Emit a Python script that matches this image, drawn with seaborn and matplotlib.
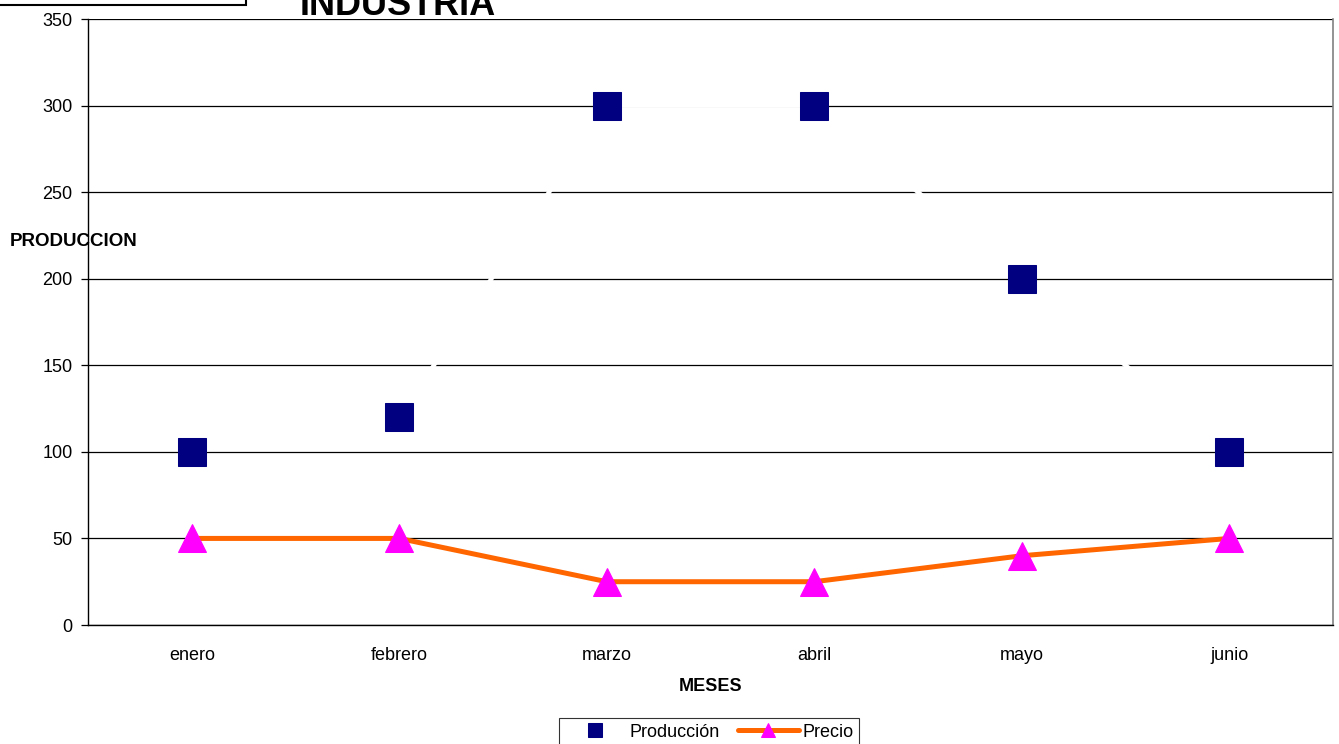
import matplotlib
matplotlib.use('Agg')
import matplotlib.pyplot as plt
import seaborn as sns
import pandas as pd
from matplotlib.patches import Rectangle

# datos del grafico
meses = ['enero', 'febrero', 'marzo', 'abril', 'mayo', 'junio']
produccion = [100, 120, 300, 300, 200, 100]
precio = [50, 50, 25, 25, 40, 50]

df = pd.DataFrame({'pos': range(len(meses)), 'mes': meses,
                   'Producción': produccion, 'Precio': precio})

sns.set_theme(style='white')
plt.rcParams['font.family'] = ['Liberation Sans', 'DejaVu Sans']
plt.rcParams['text.color'] = 'black'
plt.rcParams['axes.labelcolor'] = 'black'
plt.rcParams['xtick.color'] = 'black'
plt.rcParams['ytick.color'] = 'black'

fig = plt.figure(figsize=(13.39, 7.44), dpi=100)
ax = fig.add_axes([88 / 1339, 1 - 625 / 744, (1333 - 88) / 1339, (625 - 19) / 744])

# produccion: linea blanca (solo se nota sobre la rejilla) con cuadrados azul marino
sns.lineplot(data=df, x='pos', y='Producción', ax=ax, color='white', linewidth=3.2,
             marker='s', markersize=20, markerfacecolor='#000080',
             markeredgecolor='#000080', label='Producción', zorder=3)
# precio: linea naranja con triangulos magenta
sns.lineplot(data=df, x='pos', y='Precio', ax=ax, color='#FF6600', linewidth=3.6,
             marker='^', markersize=20, markerfacecolor='#FF00FF',
             markeredgecolor='#FF00FF', label='Precio', zorder=4)

ax.set_xlim(-0.5, len(meses) - 0.5)
ax.set_ylim(0, 350)
ax.set_yticks(range(0, 351, 50))
ax.yaxis.grid(True, color='black', linewidth=0.9)
ax.set_axisbelow(True)

ax.set_xticks(range(len(meses)))
ax.set_xticklabels(meses)
ax.set_xticks([i - 0.5 for i in range(len(meses) + 1)], minor=True)
ax.tick_params(axis='x', which='major', length=0, pad=16, labelsize=13)
ax.tick_params(axis='x', which='minor', length=5, width=0.9, color='black', direction='out')
ax.tick_params(axis='y', which='major', length=5, width=0.9, color='black',
               direction='out', left=True, labelsize=13, pad=6)

ax.spines['top'].set_visible(False)
ax.spines['right'].set_color('#808080')
ax.spines['right'].set_linewidth(1.2)
for s in ['left', 'bottom']:
    ax.spines[s].set_color('black')
    ax.spines[s].set_linewidth(1.0)

ax.set_xlabel('MESES', fontsize=13, fontweight='bold', labelpad=10)
ax.set_ylabel('')
ax.legend_.remove()

fig.text(10 / 1339, 1 - 242 / 744, 'PRODUCCION', fontsize=13.5, fontweight='bold',
         ha='left', va='center')
fig.text(300 / 1339, 1 - 15 / 744, 'INDUSTRIA', fontsize=26, fontweight='bold',
         ha='left', va='baseline')

# recuadro cortado arriba a la izquierda
fig.patches.append(Rectangle((-0.01, 1 - 5 / 744), 246 / 1339 + 0.01, 0.05,
                             transform=fig.transFigure, fill=False,
                             edgecolor='black', linewidth=1.5))

handles, labels = ax.get_legend_handles_labels()
leg = fig.legend(handles, labels, loc='lower center', bbox_to_anchor=(709 / 1339, -0.015),
                 ncol=2, fontsize=13, frameon=True, fancybox=False, edgecolor='black',
                 borderpad=0.3, handlelength=3.4, columnspacing=1.0, handletextpad=0.2,
                 markerscale=0.5)
leg.get_frame().set_linewidth(0.8)

fig.savefig('out.png', dpi=100)
